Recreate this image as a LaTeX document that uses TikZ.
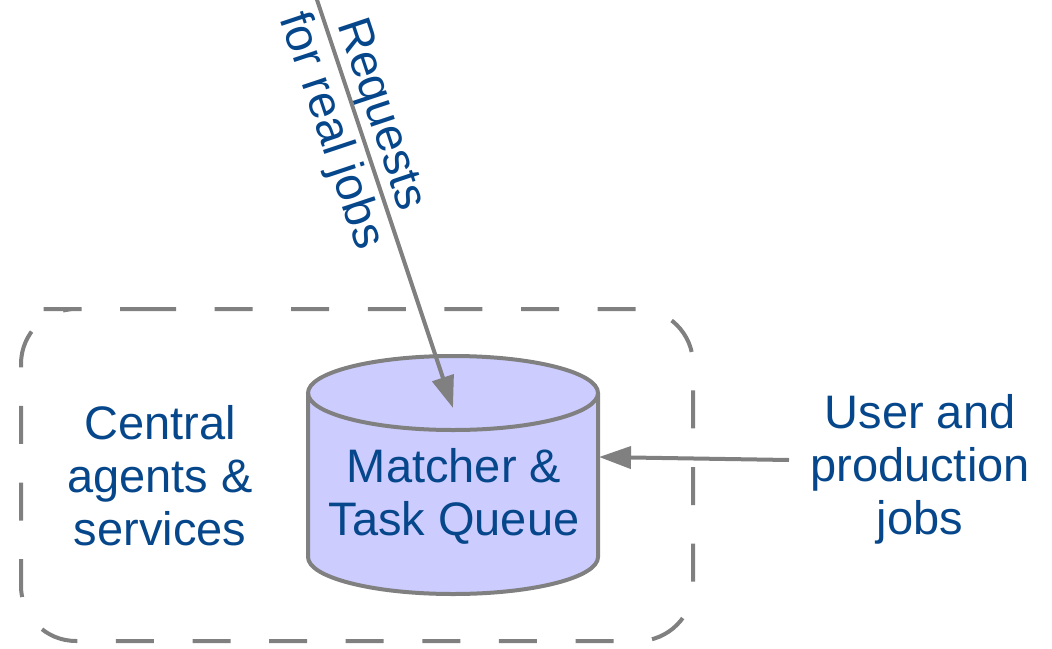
\documentclass[tikz,border=0pt]{standalone}
\usepackage{fontspec}
\setmainfont{Liberation Sans}
\usetikzlibrary{arrows.meta}
\definecolor{txtblue}{RGB}{6,70,138}
\definecolor{linegray}{RGB}{128,128,128}
\definecolor{queuefill}{RGB}{204,204,255}
\tikzset{
  captxt/.style={text=txtblue, font=\fontsize{47}{53}\selectfont, align=center, inner sep=0pt},
  flow/.style={draw=linegray, line width=4pt, -{Triangle[length=32pt,width=22pt]}},
  boundary/.style={draw=linegray, line width=4pt, dash pattern=on 38pt off 38.6pt, rounded corners=55pt},
  drumline/.style={draw=linegray, line width=4pt},
}
\begin{document}
\begin{tikzpicture}[x=1pt,y=-1pt]
\useasboundingbox (0,0) rectangle (1052,648);

% dashed group around the central services
\draw[boundary] (83,309) -- (693,309) -- (693,641) -- (21,641) -- (21,309) -- cycle;

% matcher / task queue drum
\fill[queuefill] (308,393) -- (308,557)
  arc[start angle=180, end angle=0, x radius=145, y radius=37] -- (598,393)
  arc[start angle=0, end angle=-180, x radius=145, y radius=37] -- cycle;
\draw[drumline] (308,393) -- (308,557)
  arc[start angle=180, end angle=0, x radius=145, y radius=37] -- (598,393);
\draw[drumline] (453,393) ellipse[x radius=145, y radius=37];

% labels
\node[captxt] (central) at (160,476) {Central\\agents \&\\services};
\node[captxt] (queue) at (454,496) {Matcher \&\\Task Queue};
\node[captxt] (jobs) at (920,469) {User and\\production\\jobs};
\node[captxt, rotate=-71.57] (requests) at (354.5,123) {Requests\\for real jobs};

% connectors
\coordinate (reqStart) at (315.7,-4);
\coordinate (reqEnd) at (453,408);
\coordinate (jobsTail) at (789,460);
\coordinate (queueEdge) at (599,457);
\draw[flow] (reqStart) -- (reqEnd);
\draw[flow] (jobsTail) -- (queueEdge);
\end{tikzpicture}
\end{document}
